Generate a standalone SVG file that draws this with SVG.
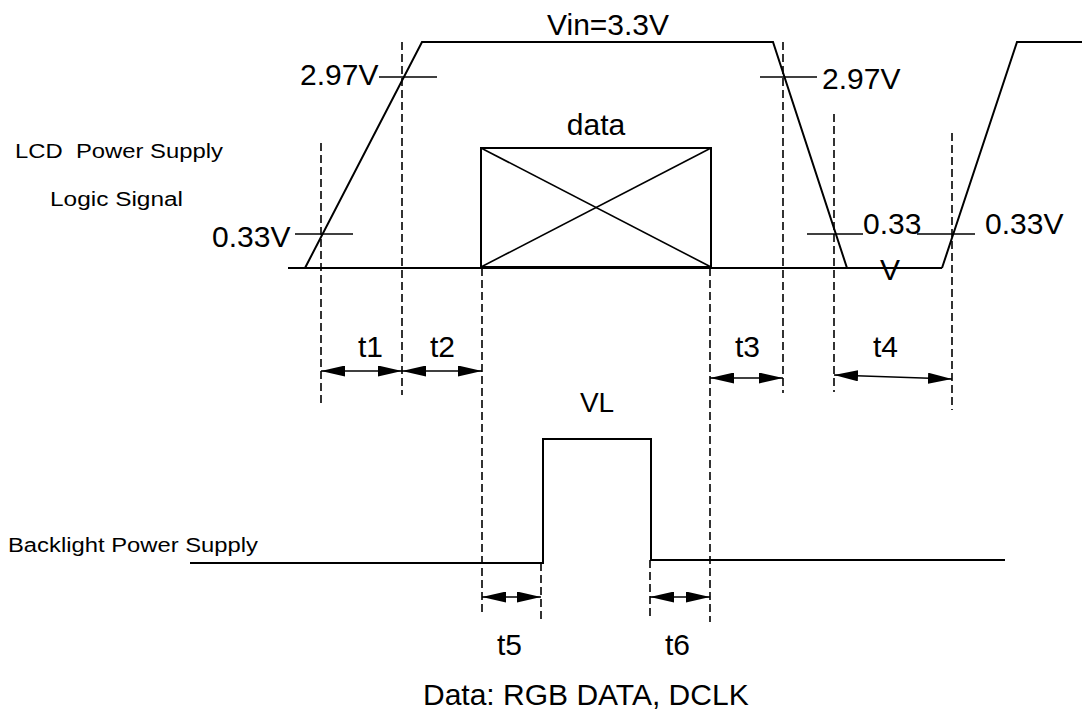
<svg xmlns="http://www.w3.org/2000/svg" width="1082" height="716" viewBox="0 0 1082 716">
<style>
text{font-family:"Liberation Sans",Arial,sans-serif;fill:#000}
.big{font-size:30px}
.small{font-size:20px}
.w{fill:none;stroke:#000;stroke-width:2}
.tk{fill:none;stroke:#000;stroke-width:1.6}
.d{fill:none;stroke:#000;stroke-width:1.6;stroke-dasharray:8 4}
.a{fill:none;stroke:#000;stroke-width:1.6;marker-start:url(#ah);marker-end:url(#ah)}
</style>
<defs>
<marker id="ah" viewBox="0 0 24 11" refX="24" refY="5.5" markerWidth="24" markerHeight="11" markerUnits="userSpaceOnUse" orient="auto-start-reverse">
<path d="M0,0 L24,5.5 L0,11 z" fill="#000"/>
</marker>
</defs>
<rect width="1082" height="716" fill="#fff"/>
<g id="labels">
<text class="small" x="15" y="158" textLength="208" lengthAdjust="spacingAndGlyphs" xml:space="preserve">LCD  Power Supply</text>
<text class="small" x="50" y="206" textLength="133" lengthAdjust="spacingAndGlyphs">Logic Signal</text>
<text class="small" x="8" y="552" textLength="250" lengthAdjust="spacingAndGlyphs">Backlight Power Supply</text>
</g>
<g id="lcd-signal">
<line class="w" x1="288" y1="268" x2="942" y2="268"/>
<polyline class="w" points="305,268 422,42 773,42 847,268"/>
<polyline class="w" points="942,268 1017,42 1082,42"/>
<line class="tk" x1="295" y1="234" x2="353" y2="234"/>
<line class="tk" x1="379" y1="77" x2="437" y2="77"/>
<line class="tk" x1="760" y1="77" x2="817" y2="77"/>
<line class="tk" x1="807" y1="234" x2="863" y2="234"/>
<line class="tk" x1="917" y1="234" x2="975" y2="234"/>
<text class="big" x="547" y="35">Vin=3.3V</text>
<text class="big" x="300" y="85">2.97V</text>
<text class="big" x="822" y="89">2.97V</text>
<text class="big" x="212" y="247">0.33V</text>
<text class="big" x="863" y="234">0.33</text>
<text class="big" x="880" y="280">V</text>
<text class="big" x="985" y="234">0.33V</text>
</g>
<g id="data">
<rect class="w" x="481" y="148" width="230" height="119"/>
<line class="tk" x1="481" y1="148" x2="711" y2="267"/>
<line class="tk" x1="481" y1="267" x2="711" y2="148"/>
<text class="big" x="596" y="135" text-anchor="middle">data</text>
</g>
<g id="backlight">
<polyline class="w" points="190,563 543,563 543,439 651,439 651,560 1005,560"/>
<text style="font-size:28px" x="597" y="412" text-anchor="middle">VL</text>
</g>
<g id="connectors">
<line class="d" x1="321" y1="143" x2="321" y2="403"/>
<line class="d" x1="402" y1="42" x2="402" y2="395"/>
<line class="d" x1="482" y1="268" x2="482" y2="613"/>
<line class="d" x1="710" y1="268" x2="710" y2="622"/>
<line class="d" x1="783" y1="42" x2="783" y2="393"/>
<line class="d" x1="834" y1="114" x2="834" y2="392"/>
<line class="d" x1="952" y1="133" x2="952" y2="410"/>
<line class="d" x1="541" y1="563" x2="541" y2="622"/>
<line class="d" x1="650" y1="560" x2="650" y2="618"/>
<line class="a" x1="321" y1="371" x2="402" y2="371"/>
<line class="a" x1="402" y1="371" x2="482" y2="371"/>
<line class="a" x1="710" y1="378" x2="783" y2="378"/>
<line class="a" x1="834" y1="375" x2="952" y2="379"/>
<line class="a" x1="482" y1="597" x2="541" y2="597"/>
<line class="a" x1="650" y1="597" x2="710" y2="597"/>
</g>
<g id="timing-labels">
<text class="big" x="358" y="357">t1</text>
<text class="big" x="430" y="357">t2</text>
<text class="big" x="735" y="357">t3</text>
<text class="big" x="873" y="357">t4</text>
<text class="big" x="497" y="655">t5</text>
<text class="big" x="665" y="655">t6</text>
<text class="big" x="423" y="705">Data: RGB DATA, DCLK</text>
</g>
</svg>
